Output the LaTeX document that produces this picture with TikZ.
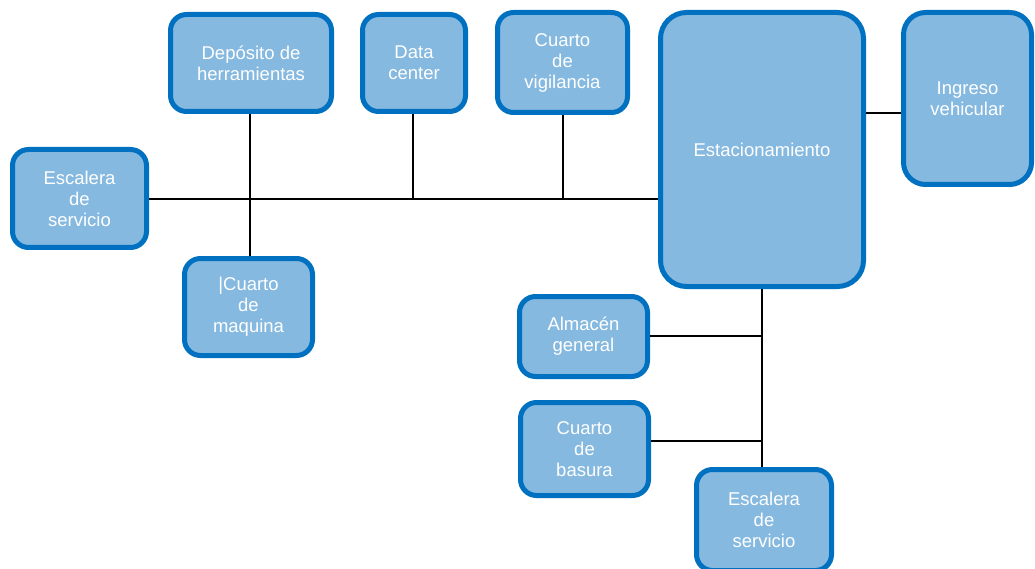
\documentclass[tikz,border=0pt]{standalone}
\usepackage{fontspec}
\setmainfont{Liberation Sans}
\definecolor{boxfill}{HTML}{85B9E0}
\definecolor{boxline}{HTML}{0070C0}
\begin{document}
\begin{tikzpicture}[x=1pt,y=-1pt,
  room/.style={draw=boxline,fill=boxfill,line width=5pt,rounded corners=16pt,
    inner sep=0pt,align=center,text=white,font=\fontsize{18.5}{21}\selectfont},
  link/.style={draw=black,line width=1.2pt}]
\useasboundingbox (0,0) rectangle (1035,569);
\clip (0,0) rectangle (1035,569);
% boxes (size = outer - line width)
\node[room,minimum width=134pt,minimum height=98pt] (esc1) at (79.5,198.5) {Escalera\\de\\servicio};
\node[room,minimum width=161pt,minimum height=97pt] (dep) at (251,63) {Depósito de\\herramientas};
\node[room,minimum width=103pt,minimum height=97pt] (data) at (414,63) {Data\\center};
\node[room,minimum width=130pt,minimum height=100pt] (vig) at (562.5,62.5) {Cuarto\\de\\vigilancia};
\node[room,minimum width=203pt,minimum height=274pt,rounded corners=26pt] (est) at (762,149.5) {Estacionamiento};
\node[room,minimum width=128pt,minimum height=172pt,rounded corners=22pt] (ing) at (967.5,98.5) {Ingreso\\vehicular};
\node[room,minimum width=128pt,minimum height=97pt] (maq) at (248.5,307) {|Cuarto\\de\\maquina};
\node[room,minimum width=128pt,minimum height=80pt] (alm) at (583.5,336.5) {Almacén\\general};
\node[room,minimum width=128pt,minimum height=93pt] (bas) at (584.5,449) {Cuarto\\de\\basura};
\node[room,minimum width=135pt,minimum height=101pt] (esc2) at (764,520) {Escalera\\de\\servicio};
% junction coordinates
\coordinate (j1) at (250,199);
\coordinate (j2) at (413,199);
\coordinate (j3) at (563,199);
\coordinate (j4) at (762,336);
\coordinate (j5) at (762,441);
% connectors
\draw[link] (esc1.east |- 0,199) -- (est.west |- 0,199);
\draw[link] (dep.south -| j1) -- (maq.north -| j1);
\draw[link] (data.south -| j2) -- (j2);
\draw[link] (vig.south -| j3) -- (j3);
\draw[link] (est.east |- 0,113) -- (ing.west |- 0,113);
\draw[link] (est.south -| j4) -- (esc2.north -| j4);
\draw[link] (alm.east |- j4) -- (j4);
\draw[link] (bas.east |- j5) -- (j5);
\end{tikzpicture}
\end{document}
